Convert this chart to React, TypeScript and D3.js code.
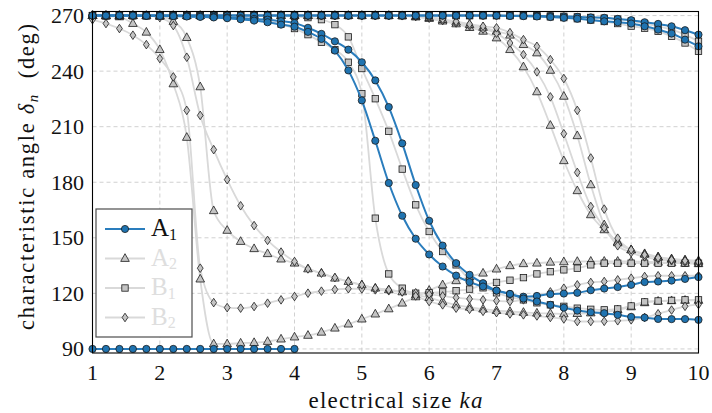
import React from "react";
import * as d3 from "d3";

// electrical size ka (sample points of the sweep)
const KA = [
  1.0, 1.2, 1.4, 1.6, 1.8, 2.0, 2.2, 2.4, 2.6, 2.8,
  3.0, 3.2, 3.4, 3.6, 3.8, 4.0, 4.2, 4.4, 4.6, 4.8,
  5.0, 5.2, 5.4, 5.6, 5.8, 6.0, 6.2, 6.4, 6.6, 6.8,
  7.0, 7.2, 7.4, 7.6, 7.8, 8.0, 8.2, 8.4, 8.6, 8.8,
  9.0, 9.2, 9.4, 9.6, 9.8, 10.0,
];

// characteristic angles (deg), A1 modes
const A1_FLOOR = [90, 90, 90, 90, 90, 90, 90, 90, 90, 90, 90, 90, 90, 90, 90, 90];
const A1_TOP_1 = [
  270, 270, 270, 270, 270, 270, 270, 270, 270, 270,
  270, 270, 270, 270, 270, 270, 270, 270, 270, 270,
  270, 270, 270, 270, 270, 270, 270, 270, 270, 270,
  270, 269.9, 269.9, 269.8, 269.7, 269.5, 269.3, 269.0, 268.8, 268.2,
  267.5, 266.4, 265.5, 264.2, 262.1, 259.7,
];
const A1_TOP_2 = [
  270, 270, 270, 270, 270, 270, 270, 270, 270, 270,
  270, 270, 270, 270, 270, 270, 270, 270, 270, 270,
  270, 270, 270, 270, 270, 270, 270, 270, 270, 270,
  270, 269.8, 269.7, 269.5, 269.2, 268.8, 268.3, 267.6, 266.9, 266.4,
  265.7, 264.2, 262.4, 260.3, 257.0, 253.4,
];
const A1_P = [
  270, 270, 270, 270, 269.9, 269.9, 269.8, 269.7, 269.5, 269.3,
  269.0, 268.6, 268.2, 267.8, 267.0, 266.0, 263.4, 260.1, 256.1, 251.6,
  244.8, 235.0, 220.6, 201.0, 178.5, 159.2, 145.8, 136.3, 130.0, 125.5,
  121.5, 119.7, 118.2, 118.6, 119.6, 119.9, 120.3, 121.7, 122.6, 123.4,
  124.6, 126.1, 126.4, 126.9, 127.8, 128.8,
];
const A1_Q = [
  270, 270, 270, 270, 269.9, 269.8, 269.7, 269.5, 269.3, 269.0,
  268.6, 268.0, 267.3, 266.4, 265.1, 264.0, 261.2, 257.4, 251.1, 240.4,
  224.2, 202.4, 179.6, 161.9, 149.5, 141.0, 134.5, 129.6, 126.1, 123.7,
  121.5, 119.7, 117.2, 115.6, 113.8, 112.3, 110.7, 109.8, 109.3, 108.4,
  107.3, 106.9, 106.2, 106.1, 106.1, 105.7,
];

// A2 modes
const A2_1 = [
  270, 269.7, 269.3, 265.7, 261.0, 251.6, 233.1, 204.2, 127.7, 92.7,
  92.7, 93.1, 93.4, 94.0, 95.3, 96.4, 97.3, 99.0, 101.2, 103.4,
  106.1, 108.8, 111.6, 114.7, 118.1, 121.6, 124.6, 126.8, 128.9, 130.9,
  133.1, 134.9, 136.0, 136.3, 136.8, 137.0, 137.2, 137.3, 137.3, 137.3,
  137.2, 137.0, 136.8, 136.5, 136.2, 136.0,
];
const A2_2 = [
  270, 270, 270, 270, 269.8, 269.5, 266.8, 258.1, 231.5, 164.6,
  154.0, 148.0, 144.1, 141.4, 138.5, 136.3, 133.2, 130.9, 128.2, 126.4,
  124.6, 122.8, 121.9, 120.8, 119.2, 117.7, 115.6, 113.8, 112.5, 111.5,
  110.7, 110.2, 109.7, 109.3, 109.1, 108.9, 109.1, 109.4, 110.0, 111.1,
  112.7, 114.9, 115.7, 116.0, 116.2, 116.2,
];
const A2_3 = [
  270, 270, 270, 270, 270, 270, 270, 270, 270, 270,
  270, 270, 270, 270, 270, 270, 270, 270, 270, 270,
  270, 270, 270, 269.9, 269.2, 268.4, 267.0, 265.5, 263.5, 261.5,
  257.9, 251.6, 242.3, 228.8, 210.7, 191.6, 175.4, 162.4, 154.3, 147.8,
  143.5, 141.4, 139.7, 138.6, 138.1, 137.6,
];
const A2_4 = [
  270, 270, 270, 270, 270, 270, 270, 270, 270, 270,
  270, 270, 270, 270, 270, 270, 270, 270, 270, 270,
  270, 270, 270, 269.9, 269.5, 268.9, 267.8, 266.5, 265.1, 263.6,
  261.5, 259.4, 254.3, 249.8, 240.4, 226.4, 205.1, 178.6, 157.0, 147.3,
  143.5, 141.1, 139.5, 138.4, 137.6, 137.0,
];

// B1 modes
const B1_1 = [
  270, 270, 270, 270, 270, 270, 270, 270, 270, 270,
  269.5, 268.9, 268.1, 267.0, 265.4, 263.0, 259.7, 255.6, 251.6, 244.8,
  227.8, 160.6, 130.5, 122.8, 120.1, 120.3, 120.8, 121.4, 122.3, 124.6,
  125.9, 127.1, 128.5, 130.5, 131.7, 132.7, 133.6, 135.4, 136.3, 136.3,
  136.3, 136.3, 136.3, 136.3, 136.3, 136.3,
];
const B1_2 = [
  270, 270, 270, 270, 270, 270, 270, 270, 270, 270,
  270, 270, 270, 270, 269.8, 269.5, 268.9, 267.8, 265.1, 258.5,
  241.4, 225.1, 207.5, 187.1, 167.8, 153.4, 142.6, 135.4, 127.3, 123.0,
  120.3, 118.1, 116.5, 114.9, 113.8, 113.0, 112.0, 111.4, 111.1, 111.6,
  113.2, 115.4, 115.9, 116.2, 116.5, 116.5,
];
const B1_3 = [
  270, 270, 270, 270, 270, 270, 270, 270, 270, 270,
  270, 270, 270, 270, 270, 270, 270, 270, 270, 270,
  270, 270, 270, 270, 270, 270, 270, 270, 270, 270,
  270, 270, 270, 270, 269.8, 269.6, 269.3, 269.0, 268.6, 268.1,
  267.0, 265.7, 264.2, 262.4, 259.7, 256.1,
];
const B1_4 = [
  270, 270, 270, 270, 270, 270, 270, 270, 270, 270,
  270, 270, 270, 270, 270, 270, 270, 270, 270, 270,
  270, 270, 270, 270, 270, 270, 270, 270, 270, 270,
  270, 270, 270, 269.6, 269.3, 268.9, 268.3, 267.6, 266.8, 265.7,
  264.3, 263.2, 261.5, 258.8, 255.2, 250.7,
];

// B2 modes
const B2_1 = [
  267.8, 265.7, 263.0, 259.4, 254.3, 246.8, 236.9, 218.8, 133.6, 115.0,
  112.3, 112.0, 112.9, 114.7, 116.5, 118.3, 120.1, 121.2, 122.1, 122.5,
  122.4, 121.9, 121.4, 120.8, 120.3, 119.5, 118.6, 117.7, 117.0, 116.5,
  116.0, 115.6, 116.5, 118.1, 120.8, 122.8, 124.6, 125.9, 126.4, 127.3,
  128.2, 129.1, 129.5, 129.5, 129.5, 129.5,
];
const B2_2 = [
  270, 270, 270, 270, 270, 268.9, 264.6, 247.5, 216.1, 197.6,
  181.4, 167.3, 156.6, 148.6, 142.3, 137.2, 133.2, 130.9, 128.5, 126.4,
  124.6, 122.8, 121.9, 120.8, 118.6, 115.6, 113.8, 112.0, 111.4, 110.3,
  109.6, 108.9, 108.4, 107.8, 107.0, 106.2, 104.8, 104.8, 104.9, 105.2,
  105.7, 107.0, 109.0, 111.0, 113.0, 114.0,
];
const B2_3 = [
  270, 270, 270, 270, 270, 270, 270, 270, 270, 270,
  270, 270, 270, 270, 270, 270, 270, 270, 270, 270,
  270, 270, 270, 269.9, 269.5, 268.6, 267.3, 266.0, 264.4, 262.7,
  260.5, 255.2, 248.9, 239.6, 226.1, 206.2, 185.3, 166.9, 155.4, 145.7,
  142.0, 139.7, 138.4, 137.6, 136.8, 136.5,
];
const B2_4 = [
  270, 270, 270, 270, 270, 270, 270, 270, 270, 270,
  270, 270, 270, 270, 270, 270, 270, 270, 270, 270,
  270, 270, 270, 270, 269.7, 269.2, 268.1, 266.8, 265.4, 264.2,
  263.4, 260.8, 257.0, 253.4, 246.2, 236.0, 218.8, 193.1, 165.5, 149.8,
  143.5, 140.8, 139.2, 138.1, 137.6, 137.0,
];

const X_TICKS = [1, 2, 3, 4, 5, 6, 7, 8, 9, 10];
const Y_TICKS = [90, 120, 150, 180, 210, 240, 270];

type MarkerKind = "circle" | "triangle" | "square" | "diamond";

interface Series {
  letter: string;
  index: string;
  marker: MarkerKind;
  curves: number[][];
}

const SERIES: Series[] = [
  { letter: "A", index: "1", marker: "circle", curves: [A1_FLOOR, A1_TOP_1, A1_TOP_2, A1_P, A1_Q] },
  { letter: "A", index: "2", marker: "triangle", curves: [A2_1, A2_2, A2_3, A2_4] },
  { letter: "B", index: "1", marker: "square", curves: [B1_1, B1_2, B1_3, B1_4] },
  { letter: "B", index: "2", marker: "diamond", curves: [B2_1, B2_2, B2_3, B2_4] },
];

const W = 712;
const H = 413;
const LEFT = 92.5;
const RIGHT = 698.5;
const TOP = 11.5;
const BOTTOM = 353;

const BLUE_LINE = "#2a7dbd";
const BLUE_FILL = "#1f73b0";
const GRAY_LINE = "#d9d9d9";
const GRAY_FILL = "#c4c4c4";
const MARK_STROKE = "#1c1c1c";
const FONT = "'Liberation Serif', 'DejaVu Serif', serif";

const x = d3.scaleLinear().domain([1, 10]).range([LEFT, RIGHT]);
const y = d3.scaleLinear().domain([87.8, 272.2]).range([BOTTOM, TOP]);

function Marker({ kind, cx, cy, fill }: { kind: MarkerKind; cx: number; cy: number; fill: string }) {
  const common = { fill, stroke: MARK_STROKE, strokeWidth: 0.8 };
  if (kind === "circle") return <circle cx={cx} cy={cy} r={3.6} {...common} />;
  if (kind === "square") return <rect x={cx - 3.2} y={cy - 3.2} width={6.4} height={6.4} {...common} />;
  if (kind === "triangle")
    return <path d={`M${cx},${cy - 4.8}L${cx + 4.3},${cy + 2.9}L${cx - 4.3},${cy + 2.9}Z`} {...common} />;
  return <path d={`M${cx},${cy - 4.3}L${cx + 2.9},${cy}L${cx},${cy + 4.3}L${cx - 2.9},${cy}Z`} {...common} />;
}

const line = d3
  .line<number>()
  .x((_, i) => x(KA[i]))
  .y((d) => y(d))
  .curve(d3.curveMonotoneX);

function SeriesLines({ s, color, width }: { s: Series; color: string; width: number }) {
  return (
    <g>
      {s.curves.map((c, k) => (
        <path key={k} d={line(c) || ""} fill="none" stroke={color} strokeWidth={width} strokeLinejoin="round" />
      ))}
    </g>
  );
}

function SeriesMarkers({ s, fill }: { s: Series; fill: string }) {
  return (
    <g>
      {s.curves.map((c, k) =>
        c.map((v, i) => <Marker key={`${k}-${i}`} kind={s.marker} cx={x(KA[i])} cy={y(v)} fill={fill} />)
      )}
    </g>
  );
}

export default function App() {
  const [blue, ...grays] = SERIES;
  const legendRows = [229, 258.5, 288, 317.5];
  return (
    <svg
      width={W}
      height={H}
      viewBox={`0 0 ${W} ${H}`}
      style={{ position: "absolute", left: 0, top: 0, background: "#fff" }}
      fontFamily={FONT}
    >
      <rect x={0} y={0} width={W} height={H} fill="#fff" />

      {/* grid */}
      <g stroke="#cccccc" strokeWidth={0.9} strokeDasharray="4 3">
        {X_TICKS.map((t) => (
          <line key={`gx${t}`} x1={x(t)} x2={x(t)} y1={TOP} y2={BOTTOM} />
        ))}
        {Y_TICKS.map((t) => (
          <line key={`gy${t}`} x1={LEFT} x2={RIGHT} y1={y(t)} y2={y(t)} />
        ))}
      </g>

      {/* gray mode families */}
      {grays.map((s, k) => (
        <SeriesLines key={`l${k}`} s={s} color={GRAY_LINE} width={1.8} />
      ))}
      {grays.map((s, k) => (
        <SeriesMarkers key={`m${k}`} s={s} fill={GRAY_FILL} />
      ))}

      {/* A1 family */}
      <SeriesLines s={blue} color={BLUE_LINE} width={2} />
      <SeriesMarkers s={blue} fill={BLUE_FILL} />

      {/* frame */}
      <rect x={LEFT} y={TOP} width={RIGHT - LEFT} height={BOTTOM - TOP} fill="none" stroke="#000" strokeWidth={1.1} />

      {/* tick labels */}
      <g fontSize={22} fill="#111">
        {Y_TICKS.map((t) => (
          <text key={`ty${t}`} x={84} y={y(t)} textAnchor="end" dominantBaseline="central">
            {t}
          </text>
        ))}
        {X_TICKS.map((t) => (
          <text key={`tx${t}`} x={x(t)} y={380} textAnchor="middle">
            {t}
          </text>
        ))}
      </g>

      {/* axis titles */}
      <text
        x={(LEFT + RIGHT) / 2}
        y={408}
        textAnchor="middle"
        fontSize={23}
        fill="#111"
        textLength={174}
        lengthAdjust="spacing"
      >
        electrical size <tspan fontStyle="italic">ka</tspan>
      </text>
      <text
        transform="translate(34,177) rotate(-90)"
        textAnchor="middle"
        fontSize={22.5}
        fill="#111"
        textLength={306}
        lengthAdjust="spacing"
      >
        characteristic angle <tspan fontStyle="italic">δ</tspan>
        <tspan fontStyle="italic" fontSize={15} dy={4}>n</tspan>
        <tspan dy={-4}>{"\u00a0\u00a0(deg)"}</tspan>
      </text>

      {/* legend */}
      <g>
        <rect x={96} y={209} width={96} height={128} fill="#fff" stroke="#4d4d4d" strokeWidth={1.2} />
        {SERIES.map((s, k) => {
          const cy = legendRows[k];
          const isBlue = k === 0;
          const col = isBlue ? BLUE_LINE : GRAY_LINE;
          return (
            <g key={`lg${k}`}>
              <line x1={105} x2={145} y1={cy} y2={cy} stroke={col} strokeWidth={isBlue ? 2 : 1.8} />
              <Marker kind={s.marker} cx={125} cy={cy} fill={isBlue ? BLUE_FILL : GRAY_FILL} />
              <text x={151} y={cy + 7} fontSize={25} fill={isBlue ? "#111" : "#dedede"}>
                {s.letter}
                <tspan fontSize={16} dy={3.5}>{s.index}</tspan>
              </text>
            </g>
          );
        })}
      </g>
    </svg>
  );
}
